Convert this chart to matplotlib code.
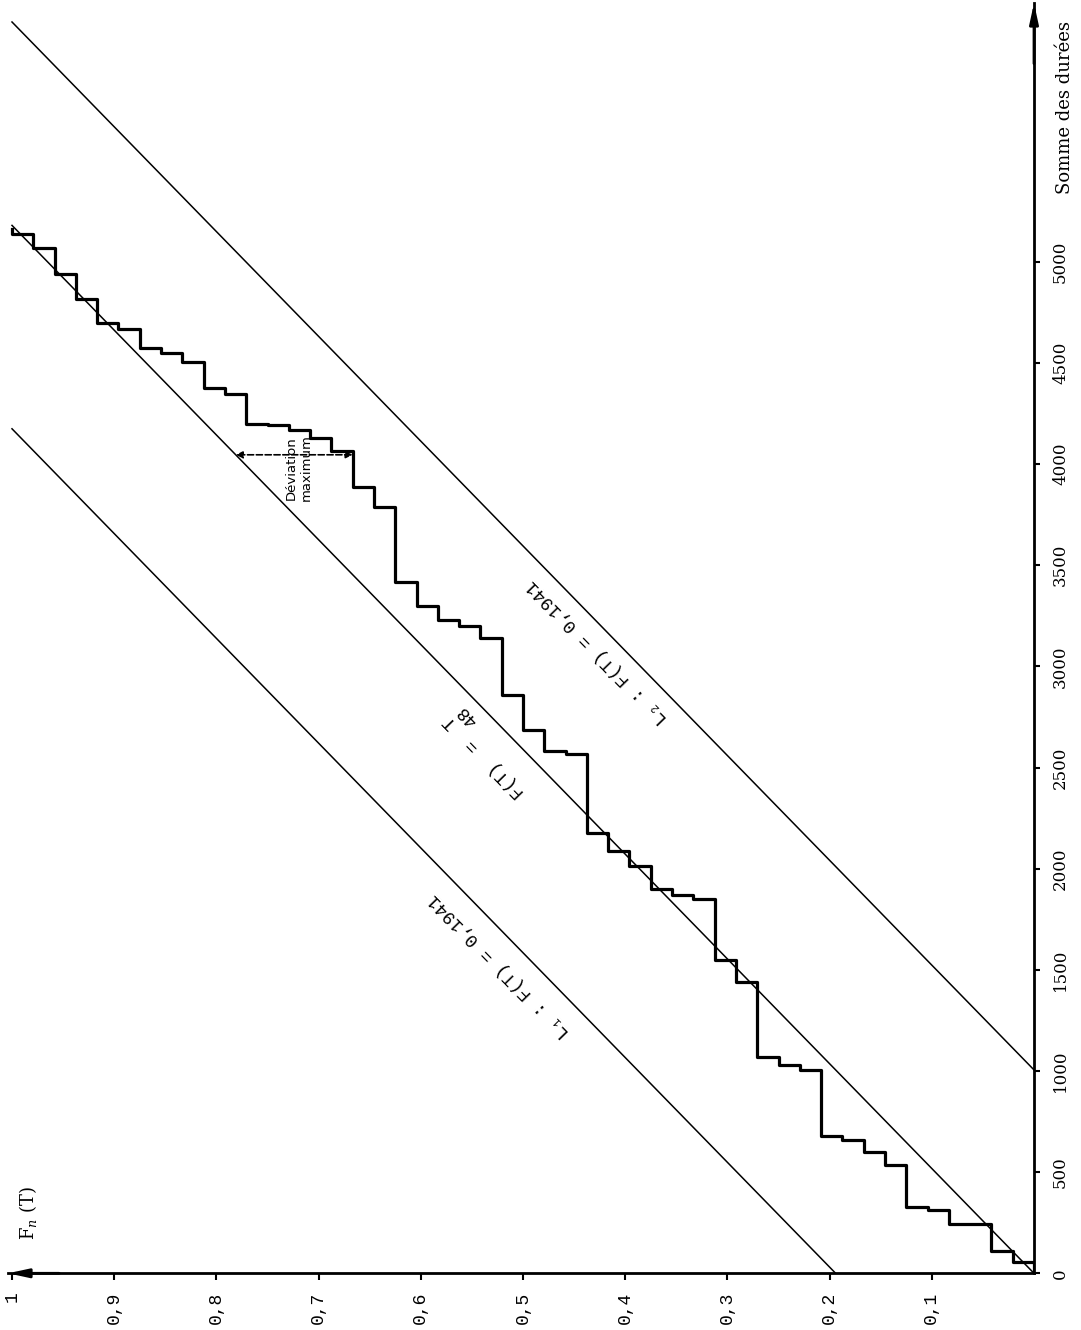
import numpy as np
import matplotlib
matplotlib.use('Agg')
import matplotlib.pyplot as plt

plt.rcParams['mathtext.fontset'] = 'dejavuserif'

# ECDF of the cumulated durations (n = 48), value of T at each jump of F_n
n_obs = 48
t_jumps = [54, 110, 242, 242, 313, 329, 535, 600, 658, 678,
           1004, 1029, 1069, 1440, 1547, 1849, 1869, 1898, 2013, 2087,
           2176, 2568, 2584, 2686, 2859, 3139, 3198, 3231, 3297, 3415,
           3789, 3888, 4066, 4128, 4168, 4193, 4200, 4347, 4374, 4505,
           4548, 4573, 4667, 4696, 4815, 4938, 5067, 5136]
t_end = 5160
t_total = 5180
d_max = 0.1941
t_dev = 4046  # where the maximum deviation is drawn

f_ticks = [0.1, 0.2, 0.3, 0.4, 0.5, 0.6, 0.7, 0.8, 0.9, 1.0]
f_tick_labels = ['0,1', '0,2', '0,3', '0,4', '0,5', '0,6', '0,7', '0,8', '0,9', '1']
t_ticks = [0, 500, 1000, 1500, 2000, 2500, 3000, 3500, 4000, 4500, 5000]
t_tick_labels = ['0', '500', '1000', '1500', '2000', '2500', '3000', '3500',
                 '4000', '4500', '5000']

fig = plt.figure(figsize=(10.81, 13.30), dpi=100)
ax = fig.add_axes([8 / 1081, 56.7 / 1330, 1026 / 1081, 1270.3 / 1330])
f_left = 1026 / 1022
t_top = 1270.3 / 0.2023
ax.set_xlim(f_left, 0)
ax.set_ylim(0, t_top)

# axes (drawn rotated: F_n horizontal to the left, T vertical)
ax.spines['left'].set_visible(False)
ax.spines['top'].set_visible(False)
ax.spines['right'].set_linewidth(2)
ax.spines['bottom'].set_linewidth(2)
ax.yaxis.tick_right()
ax.set_xticks(f_ticks, f_tick_labels, rotation=90,
              fontfamily='Liberation Mono', fontsize=13)
ax.set_yticks(t_ticks, t_tick_labels, rotation=90,
              fontfamily='DejaVu Serif', fontsize=12)
plt.setp(ax.get_yticklabels(), va='center')
ax.tick_params(axis='x', direction='out', length=5, width=1.5, pad=8)
ax.tick_params(axis='y', direction='out', length=4, width=1.5, pad=9)

arrow = dict(arrowstyle='-|>,head_length=0.6,head_width=0.13', color='black',
             lw=2, shrinkA=0, shrinkB=0, mutation_scale=20)
ax.annotate('', xy=(0, t_top), xytext=(0, t_top - 300), arrowprops=arrow,
            annotation_clip=False)
ax.annotate('', xy=(f_left, 0), xytext=(f_left - 0.05, 0), arrowprops=arrow,
            annotation_clip=False)

# step function
f_levels = list(np.arange(n_obs + 1) / n_obs) + [1.0]
t_levels = [0] + t_jumps + [t_end]
ax.step(f_levels, t_levels, where='pre', color='black', lw=2.3)

# theoretical line and Kolmogorov bounds
ax.plot([0, 1], [0, t_total], color='black', lw=1.1)
ax.plot([d_max, 1], [0, (1 - d_max) * t_total], color='black', lw=1.1)
ax.plot([0, 1], [d_max * t_total, (1 + d_max) * t_total], color='black', lw=1.1)

# maximum deviation
ax.annotate('', xy=(t_dev / t_total, t_dev), xytext=(32 / n_obs, t_dev),
            arrowprops=dict(arrowstyle='<|-|>', linestyle='--', color='black',
                            lw=1.2, mutation_scale=10, shrinkA=0, shrinkB=0))
ax.text(0.7192, 3981, 'Déviation\nmaximum', rotation=90, ha='center',
        va='center', fontsize=9.5, linespacing=1.15, fontfamily='DejaVu Sans')

p0 = ax.transData.transform((0, 0))
p1 = ax.transData.transform((1, t_total))
ang = np.degrees(np.arctan2(p1[1] - p0[1], p1[0] - p0[0]))

mono = ['Liberation Mono', 'DejaVu Sans Mono']
ax.text(0.5235, 1519, 'L₁ : F(T) = 0,1941', rotation=ang, rotation_mode='anchor',
        ha='center', va='center', fontsize=13, family=mono)
ax.text(0.4276, 3071, 'L₂ : F(T) = 0,1941', rotation=ang, rotation_mode='anchor',
        ha='center', va='center', fontsize=13, family=mono)
ax.text(0.5382, 2554, 'F(T)  =  T', rotation=ang, rotation_mode='anchor',
        ha='center', va='center', fontsize=13, family=mono)
ax.text(0.5548, 2756, '48', rotation=ang, rotation_mode='anchor',
        ha='center', va='center', fontsize=13, family=mono)

ax.text(0.9843, 297, 'F$_n$ (T)', rotation=90, ha='center', va='center',
        fontsize=13, fontfamily='DejaVu Serif')
ax.text(-0.0303, 5765, 'Somme des durées', rotation=90, ha='center',
        va='center', fontsize=13, fontfamily='DejaVu Serif')

fig.savefig('out.png', dpi=100)
